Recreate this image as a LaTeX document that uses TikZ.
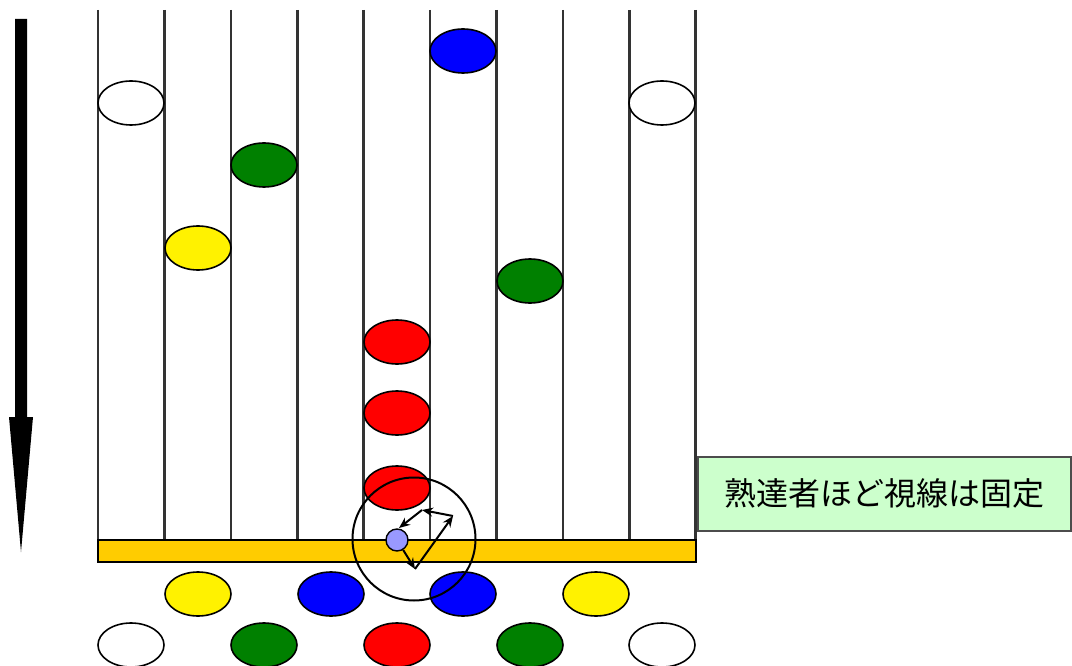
\documentclass[tikz,border=0pt]{standalone}
\usepackage{fontspec}
\newfontfamily\jpfont{Noto Sans CJK JP}
\usetikzlibrary{shapes.geometric,arrows.meta}
\definecolor{dgreen}{HTML}{008000}
\definecolor{barY}{HTML}{FFCC00}
\definecolor{eyeC}{HTML}{9999FF}
\definecolor{boxG}{HTML}{CCFFCC}
\tikzset{
  disc/.style={ellipse, draw=black, line width=1.6pt, minimum width=66pt, minimum height=44pt, inner sep=0pt},
  lane/.style={draw=black!80, line width=2.6pt},
  saccade/.style={-{Stealth[length=11pt,width=9pt]}, line width=2pt},
  labelbox/.style={draw=black!70, fill=boxG, line width=1.6pt, minimum width=373pt, minimum height=74pt, inner sep=0pt, font=\jpfont\fontsize{32}{38}\selectfont}
}
\begin{document}
\begin{tikzpicture}[x=1pt,y=-1pt]
\useasboundingbox (0,0) rectangle (1072,666);
% lanes
\foreach \i in {0,...,9} {
  \draw[lane] ({98+66.4*\i},10) -- ({98+66.4*\i},541);
}
% yellow bar
\draw[fill=barY, line width=2pt] (98,540) rectangle (696,562);
% discs in lanes
\node[disc, fill=blue] (b1) at (463,51) {};
\node[disc, fill=white] (w1) at (131,103) {};
\node[disc, fill=white] (w2) at (662,103) {};
\node[disc, fill=dgreen] (g1) at (264,165) {};
\node[disc, fill=yellow] (y1) at (198,248) {};
\node[disc, fill=dgreen] (g2) at (530,281) {};
\node[disc, fill=red] (r1) at (397,342) {};
\node[disc, fill=red] (r2) at (397,413) {};
\node[disc, fill=red] (r3) at (397,488) {};
% bottom discs
\node[disc, fill=yellow] (by1) at (198,594) {};
\node[disc, fill=blue] (bb1) at (331,594) {};
\node[disc, fill=blue] (bb2) at (463,594) {};
\node[disc, fill=yellow] (by2) at (596,594) {};
\node[disc, fill=white] (bw1) at (131,645) {};
\node[disc, fill=dgreen] (bg1) at (264,645) {};
\node[disc, fill=red] (br1) at (397,645) {};
\node[disc, fill=dgreen] (bg2) at (530,645) {};
\node[disc, fill=white] (bw2) at (662,645) {};
% field of view circle
\node[circle, draw=black, line width=2pt, minimum size=123pt, inner sep=0pt] (fov) at (414,539) {};
% eye
\node[circle, draw=black, fill=eyeC, line width=1.4pt, minimum size=22pt, inner sep=0pt] (eye) at (397,540) {};
% saccade path
\coordinate (s1) at (415,569);
\coordinate (s2) at (453,516);
\coordinate (s3) at (422,510);
\coordinate (s4) at (399,528);
\draw[saccade] (eye) -- (s1);
\draw[saccade] (s1) -- (s2);
\draw[saccade] (s2) -- (s3);
\draw[saccade] (s3) -- (s4);
% big downward arrow
\fill[black] (15,19) -- (27,19) -- (27,417) -- (33,417) -- (21,552) -- (9,417) -- (15,417) -- cycle;
% label
\node[labelbox, anchor=north west] (lbl) at (697,456) {熟達者ほど視線は固定};
\end{tikzpicture}
\end{document}
